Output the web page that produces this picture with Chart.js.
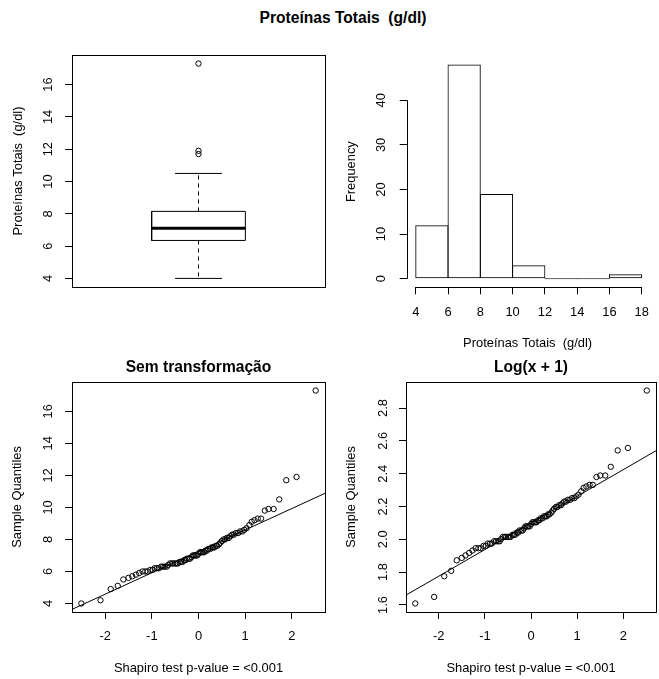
<!DOCTYPE html>
<html lang="pt-br">

<head>
    <meta charset="UTF-8">
    <title>Proteínas Totais (g/dl)</title>
    <script src="https://cdn.jsdelivr.net/npm/chart.js"></script>
    <style>
        body {
            margin: 0;
            width: 659px;
            height: 679px;
            overflow: hidden;
            position: relative;
            background: #fff;
            font-family: 'Liberation Sans', Arial, sans-serif;
        }

        canvas {
            position: absolute;
        }

        #titulo {
            position: absolute;
            left: 0;
            width: 686px;
            top: 8px;
            text-align: center;
            font-weight: bold;
            font-size: 15.6px;
            line-height: 20px;
            white-space: pre;
            color: #000;
        }
    </style>
</head>

<body>

    <div id="titulo">Proteínas Totais  (g/dl)</div>

    <canvas id="boxplot" width="330" height="340" style="left:0px; top:0px;"></canvas>
    <canvas id="histograma" width="329" height="360" style="left:330px; top:0px;"></canvas>
    <canvas id="qqBruto" width="330" height="339" style="left:0px; top:340px;"></canvas>
    <canvas id="qqLog" width="331" height="339" style="left:330px; top:340px;"></canvas>

</body>

</html>

<script>

    // boxplot: limite inferior, Q1, mediana, Q3, limite superior
    const boxStats = [4.0, 6.35, 7.1, 8.15, 10.5];
    const boxOutliers = [11.7, 11.9, 17.3];
    const boxTicks = [4, 6, 8, 10, 12, 14, 16];

    // histograma
    const histBreaks = [4, 6, 8, 10, 12, 14, 16, 18];
    const histCounts = [12, 48, 19, 3, 0, 0, 1];
    const histYTicks = [0, 10, 20, 30, 40];

    // qq plots (quantis teóricos x amostra ordenada)
    const quantisTeoricos = [
        -2.51, -2.10, -1.88, -1.73, -1.61, -1.50, -1.42, -1.34, -1.27, -1.20, -1.14, -1.09,
        -1.03, -0.98, -0.94, -0.89, -0.85, -0.80, -0.76, -0.72, -0.68, -0.65,
        -0.61, -0.57, -0.54, -0.50, -0.47, -0.44, -0.40, -0.37, -0.34, -0.31, -0.28, -0.25, -0.21, -0.18, -0.15, -0.12, -0.09, -0.06, -0.03, 0,
        0.03, 0.06, 0.09, 0.12, 0.15, 0.18, 0.21, 0.25, 0.28, 0.31, 0.34, 0.37, 0.40, 0.44, 0.47, 0.50, 0.54, 0.57,
        0.61, 0.65, 0.68, 0.72, 0.76, 0.80, 0.85, 0.89, 0.94, 0.98, 1.03, 1.09, 1.14, 1.20, 1.27, 1.34, 1.42, 1.50, 1.61,
        1.73, 1.88, 2.10, 2.51
    ];
    const amostraBruta = [
        4.0, 4.2, 4.9, 5.1, 5.5, 5.6, 5.7, 5.8, 5.9, 6.0, 6.0, 6.0,
        6.1, 6.1, 6.2, 6.2, 6.2, 6.3, 6.3, 6.3, 6.3, 6.4,
        6.5, 6.5, 6.5, 6.5, 6.5, 6.5, 6.6, 6.6, 6.6, 6.7, 6.7, 6.8, 6.8, 6.8, 6.9, 7.0, 7.0, 7.0, 7.0, 7.1,
        7.2, 7.2, 7.2, 7.2, 7.3, 7.3, 7.4, 7.4, 7.5, 7.5, 7.5, 7.6, 7.6, 7.7, 7.8, 7.9, 8.0, 8.0,
        8.1, 8.1, 8.2, 8.3, 8.3, 8.4, 8.4, 8.5, 8.5, 8.6, 8.7, 8.9, 9.1, 9.2, 9.3, 9.3, 9.8, 9.9, 9.9,
        10.5, 11.7, 11.9, 17.3
    ];
    const amostraLog = [
        1.609, 1.649, 1.775, 1.808, 1.872, 1.887, 1.902, 1.917, 1.932, 1.946, 1.946, 1.946,
        1.960, 1.960, 1.974, 1.974, 1.974, 1.988, 1.988, 1.988, 1.988, 2.001,
        2.015, 2.015, 2.015, 2.015, 2.015, 2.015, 2.028, 2.028, 2.028, 2.041, 2.041, 2.054, 2.054, 2.054, 2.067, 2.079, 2.079, 2.079, 2.079, 2.092,
        2.104, 2.104, 2.104, 2.104, 2.116, 2.116, 2.128, 2.128, 2.140, 2.140, 2.140, 2.152, 2.152, 2.163, 2.175, 2.186, 2.197, 2.197,
        2.208, 2.208, 2.219, 2.230, 2.230, 2.241, 2.241, 2.251, 2.251, 2.262, 2.272, 2.293, 2.313, 2.322, 2.332, 2.332, 2.380, 2.389, 2.389,
        2.442, 2.542, 2.557, 2.907
    ];
    const qqLinhaX = [-2.71, 2.71];
    const qqLinhaBruta = [3.63, 10.88];
    const qqLinhaLog = [1.66, 2.54];
    const qqXTicks = [-2, -1, 0, 1, 2];
    const brutaYTicks = [4, 6, 8, 10, 12, 14, 16];
    const logYTicks = [1.6, 1.8, 2.0, 2.2, 2.4, 2.6, 2.8];

    // tamanhos do boxplot (em unidades do eixo x)
    const boxCentro = 1;
    const boxMeia = 0.2;
    const hasteMeia = 0.1;

    Chart.defaults.font.family = "'Liberation Sans', Arial, sans-serif";
    Chart.defaults.font.size = 12.9;
    Chart.defaults.color = '#000';
    Chart.defaults.animation = false;
    Chart.defaults.events = [];
    Chart.defaults.plugins.legend.display = false;
    Chart.defaults.plugins.tooltip.enabled = false;

    const fonteTitulo = { size: 15.6, weight: 'bold' };

    function marcas() {
        return { display: true, drawOnChartArea: false, drawTicks: true, tickLength: 7, color: '#000', lineWidth: 1, offset: false };
    }

    function eixoY(min, max, valores, largura, texto, padTitulo, padTicks, formato) {
        return {
            type: 'linear', position: 'left', min: min, max: max,
            afterBuildTicks: s => { s.ticks = valores.map(v => ({ value: v })); },
            afterFit: s => { s.width = largura; },
            grid: marcas(),
            border: { display: false },
            ticks: {
                autoSkip: false, minRotation: 90, maxRotation: 90, crossAlign: 'center',
                padding: padTicks, callback: formato || (v => String(v))
            },
            title: { display: true, text: texto, padding: { top: padTitulo, bottom: 0 } }
        };
    }

    function eixoX(min, max, valores, altura, texto, padTitulo) {
        return {
            type: 'linear', position: 'bottom', min: min, max: max, offset: false,
            afterBuildTicks: s => { s.ticks = valores.map(v => ({ value: v })); },
            afterFit: s => { s.height = altura; },
            grid: marcas(),
            border: { display: false },
            ticks: { autoSkip: false, maxRotation: 0, minRotation: 0, padding: 10.1, callback: v => String(v) },
            title: { display: true, text: texto, padding: { top: 0, bottom: padTitulo } }
        };
    }

    function segmento(pontos, largura, tracejado) {
        return {
            data: pontos.map(p => ({ x: p[0], y: p[1] })),
            showLine: true,
            borderColor: '#000',
            borderWidth: largura,
            borderDash: tracejado || [],
            pointRadius: 0
        };
    }

    function circulos(xs, ys) {
        return {
            data: xs.map((x, i) => ({ x: x, y: ys[i] })),
            pointStyle: 'circle',
            pointRadius: 2.7,
            pointBorderWidth: 1,
            borderColor: '#000',
            backgroundColor: 'rgba(0,0,0,0)'
        };
    }

    // caixa em volta da área do gráfico (estilo R)
    const moldura = {
        id: 'moldura',
        afterDatasetsDraw(chart) {
            const { ctx, chartArea: a } = chart;
            ctx.save();
            ctx.strokeStyle = '#000';
            ctx.lineWidth = 1;
            ctx.strokeRect(Math.round(a.left) + 0.5, Math.round(a.top) + 0.5,
                Math.round(a.right - a.left), Math.round(a.bottom - a.top));
            ctx.restore();
        }
    };

    // eixos do histograma só entre o primeiro e o último tick
    const eixosHist = {
        id: 'eixosHist',
        afterDraw(chart) {
            const { ctx, chartArea: a, scales: { x, y } } = chart;
            const xl = Math.round(a.left) + 0.5;
            const yb = Math.round(a.bottom) + 0.5;
            ctx.save();
            ctx.strokeStyle = '#000';
            ctx.lineWidth = 1;
            ctx.beginPath();
            ctx.moveTo(xl, y.getPixelForValue(histYTicks[0]));
            ctx.lineTo(xl, y.getPixelForValue(histYTicks[histYTicks.length - 1]));
            ctx.moveTo(x.getPixelForValue(histBreaks[0]), yb);
            ctx.lineTo(x.getPixelForValue(histBreaks[histBreaks.length - 1]), yb);
            ctx.stroke();
            ctx.restore();
        }
    };

    // boxplot
    new Chart(document.getElementById('boxplot'), {
        type: 'scatter',
        data: {
            datasets: [
                segmento([[boxCentro - boxMeia, boxStats[1]], [boxCentro + boxMeia, boxStats[1]],
                [boxCentro + boxMeia, boxStats[3]], [boxCentro - boxMeia, boxStats[3]],
                [boxCentro - boxMeia, boxStats[1]]], 1),
                segmento([[boxCentro - boxMeia, boxStats[2]], [boxCentro + boxMeia, boxStats[2]]], 3),
                segmento([[boxCentro, boxStats[3]], [boxCentro, boxStats[4]]], 1, [4, 4]),
                segmento([[boxCentro, boxStats[1]], [boxCentro, boxStats[0]]], 1, [4, 4]),
                segmento([[boxCentro - hasteMeia, boxStats[4]], [boxCentro + hasteMeia, boxStats[4]]], 1),
                segmento([[boxCentro - hasteMeia, boxStats[0]], [boxCentro + hasteMeia, boxStats[0]]], 1),
                circulos(boxOutliers.map(() => boxCentro), boxOutliers)
            ]
        },
        options: {
            responsive: false,
            layout: { padding: { top: 55, right: 3, bottom: 53, left: 0 } },
            scales: {
                x: { type: 'linear', display: false, min: 0.46, max: 1.54 },
                y: eixoY(3.468, 17.832, boxTicks, 72, 'Proteínas Totais  (g/dl)', 10.26, 9.8)
            }
        },
        plugins: [moldura]
    });

    // histograma (barras levemente sobrepostas para que as bordas vizinhas coincidam)
    new Chart(document.getElementById('histograma'), {
        type: 'bar',
        data: {
            datasets: [{
                data: histCounts.map((c, i) => ({ x: (histBreaks[i] + histBreaks[i + 1]) / 2, y: c })),
                backgroundColor: 'rgba(0,0,0,0)',
                borderColor: '#000',
                borderWidth: 1,
                borderSkipped: false,
                barPercentage: 1.03,
                categoryPercentage: 1,
                minBarLength: 1
            }]
        },
        options: {
            responsive: false,
            layout: { padding: { top: 56, right: 0, bottom: 0, left: 0 } },
            scales: {
                x: eixoX(3.44, 18.42, histBreaks, 72.7, 'Proteínas Totais  (g/dl)', 8.96),
                y: eixoY(-1.92, 49.92, histYTicks, 76.7, 'Frequency', 13.96, 10.8)
            }
        },
        plugins: [eixosHist]
    });

    // qq sem transformação
    new Chart(document.getElementById('qqBruto'), {
        type: 'scatter',
        data: {
            datasets: [
                circulos(quantisTeoricos, amostraBruta),
                segmento([[qqLinhaX[0], qqLinhaBruta[0]], [qqLinhaX[1], qqLinhaBruta[1]]], 1)
            ]
        },
        options: {
            responsive: false,
            layout: { padding: { top: 0, right: 3, bottom: 0, left: 0 } },
            plugins: {
                title: {
                    display: true, text: 'Sem transformação', fullSize: false, color: '#000',
                    font: fonteTitulo, padding: { top: 17.94, bottom: 5.34 }
                }
            },
            scales: {
                x: eixoX(-2.71, 2.71, qqXTicks, 67, 'Shapiro test p-value = <0.001', 2.96),
                y: eixoY(3.468, 17.832, brutaYTicks, 72, 'Sample Quantiles', 9.76, 9.8)
            }
        },
        plugins: [moldura]
    });

    // qq log(x + 1)
    new Chart(document.getElementById('qqLog'), {
        type: 'scatter',
        data: {
            datasets: [
                circulos(quantisTeoricos, amostraLog),
                segmento([[qqLinhaX[0], qqLinhaLog[0]], [qqLinhaX[1], qqLinhaLog[1]]], 1)
            ]
        },
        options: {
            responsive: false,
            layout: { padding: { top: 0, right: 0, bottom: 0, left: 0 } },
            plugins: {
                title: {
                    display: true, text: 'Log(x + 1)', fullSize: false, color: '#000',
                    font: fonteTitulo, padding: { top: 17.94, bottom: 5.34 }
                }
            },
            scales: {
                x: eixoX(-2.71, 2.71, qqXTicks, 67, 'Shapiro test p-value = <0.001', 2.96),
                y: eixoY(1.557, 2.959, logYTicks, 76, 'Sample Quantiles', 13.96, 6.7, v => v.toFixed(1))
            }
        },
        plugins: [moldura]
    });

</script>
